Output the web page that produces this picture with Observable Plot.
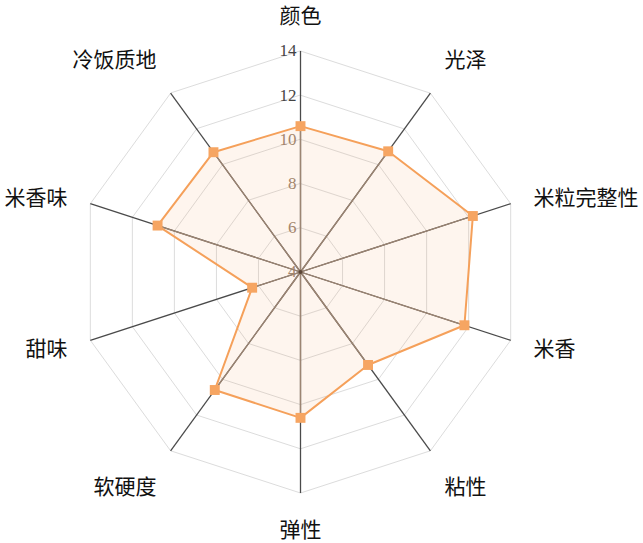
<!DOCTYPE html>
<html>
<head>
<meta charset="utf-8">
<script src="https://cdn.jsdelivr.net/npm/d3@7"></script>
<script src="https://cdn.jsdelivr.net/npm/@observablehq/plot@0.6"></script>
<style>
  html, body { margin: 0; padding: 0; background: #fff; }
  #chart svg { display: block; }
</style>
</head>
<body>
<div id="chart"></div>
<script>
// ---- data ----
const categories = ["颜色", "光泽", "米粒完整性", "米香", "粘性", "弹性", "软硬度", "甜味", "米香味", "冷饭质地"];
const values = [10.6, 10.75, 12.2, 11.8, 9.2, 10.6, 10.6, 6.3, 10.8, 10.7];
const tickValues = [4, 6, 8, 10, 12, 14];
const rMin = 4, rMax = 14;
const labelValue = 15.09; // radius (in value units) where the axis names sit

// ---- layout ----
const W = 643, H = 543;
const cx = 300, cy = 271.5, k = 22.1; // center in px, px per value unit
const n = categories.length;
const ang = i => (i * 2 * Math.PI) / n;
const px = (v, i) => (v - rMin) * Math.sin(ang(i));
const py = (v, i) => (v - rMin) * Math.cos(ang(i));

const axes = categories.map((name, i) => ({name, i, value: values[i]}));
const grid = tickValues.filter(t => t > rMin).flatMap(t => categories.map((_, i) => ({t, i})));

const orange = "#f5a05a";
const brown = "#9c8573";

function anchorH(i) { const s = Math.sin(ang(i)); return s > 0.01 ? "start" : s < -0.01 ? "end" : "middle"; }
function anchorV(i) { const c = Math.cos(ang(i)); return c > 0.5 ? "bottom" : c < -0.5 ? "top" : "middle"; }
function shift(i) {
  const c = Math.cos(ang(i));
  if (c > 0.99) return -4;      // top-most label: keep inside the frame
  if (c < -0.99) return 5;      // bottom-most label: keep inside the frame
  return c > 0.5 ? -7 : c < -0.5 ? 9 : 2;
}
const combos = [];
axes.forEach(d => {
  const key = anchorH(d.i) + "|" + anchorV(d.i) + "|" + shift(d.i);
  if (!combos.includes(key)) combos.push(key);
});
const labelMarks = combos.map(key => {
  const [h, v, s] = key.split("|");
  return Plot.text(axes.filter(d => anchorH(d.i) === h && anchorV(d.i) === v && shift(d.i) === +s), {
    x: d => px(labelValue, d.i),
    y: d => py(labelValue, d.i),
    text: "name",
    textAnchor: h,
    lineAnchor: v,
    dy: +s,
    fontSize: 21,
    fontFamily: "Noto Sans CJK SC",
    fill: "#111"
  });
});

const chart = Plot.plot({
  width: W,
  height: H,
  margin: 0,
  x: {domain: [-cx / k, (W - cx) / k], axis: null},
  y: {domain: [(cy - H) / k, cy / k], axis: null},
  marks: [
    // grid rings
    Plot.line(grid, {
      x: d => px(d.t, d.i), y: d => py(d.t, d.i), z: "t",
      curve: "linear-closed", stroke: "#dcdcdc", strokeWidth: 1
    }),
    // spokes
    Plot.link(axes, {
      x1: d => px(rMin, d.i), y1: d => py(rMin, d.i),
      x2: d => px(rMax, d.i), y2: d => py(rMax, d.i),
      stroke: "#4a4a4a", strokeWidth: 1.3
    }),
    // tick labels
    Plot.text(tickValues, {
      x: t => px(t, 0), y: t => py(t, 0),
      text: d => String(d),
      textAnchor: "end", dx: -4,
      fontFamily: "Liberation Serif", fontSize: 17,
      fill: t => (t < values[0] ? "#9a8470" : "#444")
    }),
    // area fill
    Plot.line(axes, {
      x: d => px(d.value, d.i), y: d => py(d.value, d.i),
      curve: "linear-closed", fill: orange, fillOpacity: 0.1, stroke: "none"
    }),
    // spokes inside the area (tinted)
    Plot.link(axes, {
      x1: d => px(rMin, d.i), y1: d => py(rMin, d.i),
      x2: d => px(d.value, d.i), y2: d => py(d.value, d.i),
      stroke: brown, strokeWidth: 1.3
    }),
    // outline
    Plot.line(axes, {
      x: d => px(d.value, d.i), y: d => py(d.value, d.i),
      curve: "linear-closed", stroke: orange, strokeWidth: 2
    }),
    // center dot
    Plot.dot([rMin], {x: d => px(d, 0), y: d => py(d, 0), r: 2, fill: "#5a4535"}),
    // markers
    Plot.dot(axes, {
      x: d => px(d.value, d.i), y: d => py(d.value, d.i),
      symbol: "square", r: 5.6, fill: "#f6a562", stroke: "none"
    }),
    ...labelMarks
  ]
});
document.getElementById("chart").append(chart);
</script>
</body>
</html>
